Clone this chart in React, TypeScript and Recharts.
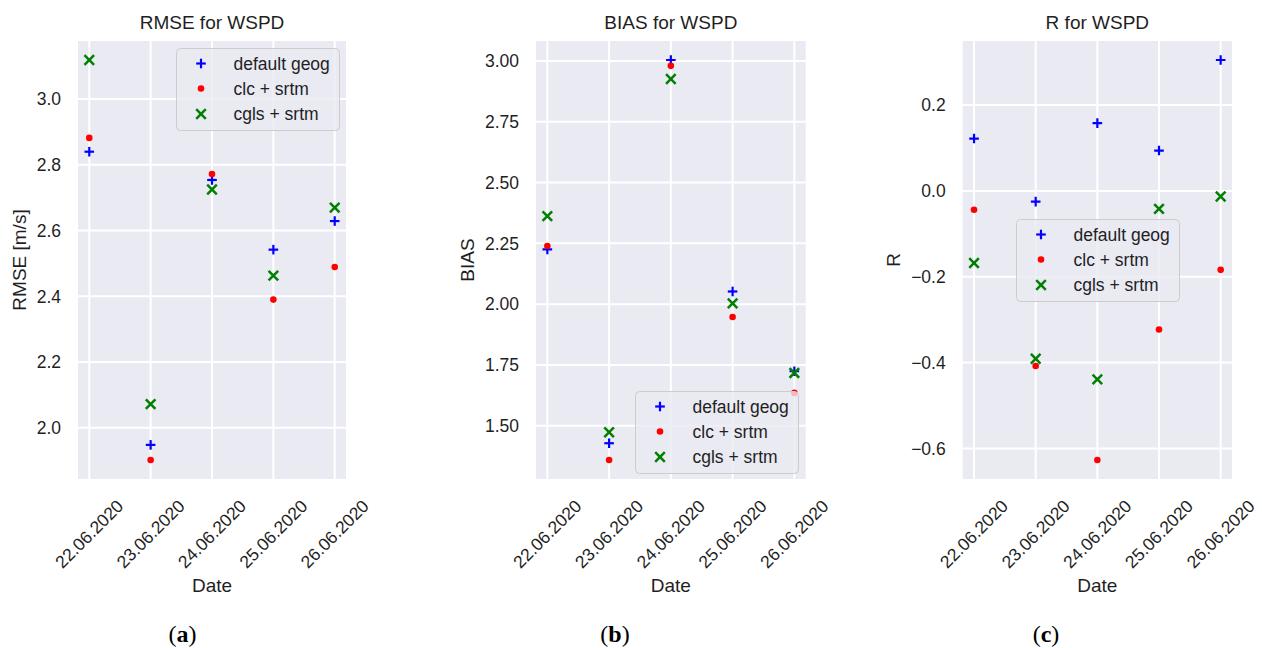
import React from 'react';
import { ScatterChart, Scatter, XAxis, YAxis, CartesianGrid, Legend } from 'recharts';

// ---------- data ----------
const dates = ['22.06.2020', '23.06.2020', '24.06.2020', '25.06.2020', '26.06.2020'];
const seriesNames = ['default geog', 'clc + srtm', 'cgls + srtm'];

const rmseDefault = [2.84, 1.948, 2.754, 2.542, 2.629];
const rmseClc = [2.882, 1.902, 2.772, 2.39, 2.489];
const rmseCgls = [3.119, 2.072, 2.725, 2.463, 2.67];

const biasDefault = [2.225, 1.428, 3.004, 2.052, 1.724];
const biasClc = [2.239, 1.359, 2.98, 1.947, 1.635];
const biasCgls = [2.362, 1.473, 2.926, 2.003, 1.717];

const rDefault = [0.122, -0.025, 0.158, 0.094, 0.305];
const rClc = [-0.044, -0.408, -0.627, -0.323, -0.184];
const rCgls = [-0.168, -0.391, -0.439, -0.042, -0.013];

const rmseTicks = [2.0, 2.2, 2.4, 2.6, 2.8, 3.0];
const biasTicks = [1.5, 1.75, 2.0, 2.25, 2.5, 2.75, 3.0];
const rTicks = [-0.6, -0.4, -0.2, 0.0, 0.2];
const xTicks = [0, 1, 2, 3, 4];

// ---------- styling ----------
const SANS = '"Liberation Sans", Arial, sans-serif';
const TXT = '#1f1f1f';
const BG = '#EAEAF2';
const BLUE = '#0000FF';
const RED = '#FF0000';
const GREEN = '#008000';

const toPts = (vals: number[]) => vals.map((v, i) => ({ x: i, y: v }));

const PlusMark = ({ cx, cy }: any) => (
  <g>
    <line x1={cx - 4.8} y1={cy} x2={cx + 4.8} y2={cy} stroke={BLUE} strokeWidth={2.2} />
    <line x1={cx} y1={cy - 4.8} x2={cx} y2={cy + 4.8} stroke={BLUE} strokeWidth={2.2} />
  </g>
);
const DotMark = ({ cx, cy }: any) => <circle cx={cx} cy={cy} r={3.3} fill={RED} />;
const XMark = ({ cx, cy }: any) => (
  <g>
    <line x1={cx - 4.8} y1={cy - 4.8} x2={cx + 4.8} y2={cy + 4.8} stroke={GREEN} strokeWidth={2.5} />
    <line x1={cx - 4.8} y1={cy + 4.8} x2={cx + 4.8} y2={cy - 4.8} stroke={GREEN} strokeWidth={2.5} />
  </g>
);

const DateTick = (props: any) => {
  const { x, y, payload } = props;
  const cy = y + 54;
  return (
    <text
      x={x}
      y={cy}
      textAnchor="middle"
      dominantBaseline="central"
      transform={`rotate(-45, ${x}, ${cy})`}
      fontSize={17.5}
      fill={TXT}
      fontFamily={SANS}
    >
      {dates[payload.value]}
    </text>
  );
};

const LegendBox = () => {
  const w = 163;
  const h = 82;
  const rows = [15.5, 40.5, 66];
  const mk = 25;
  const tx = 57.5;
  return (
    <svg width={w + 2} height={h + 2} style={{ display: 'block' }}>
      <rect x={0.5} y={0.5} width={w} height={h} rx={4} ry={4} fill="rgba(234,234,242,0.8)" stroke="#CCCCCC" strokeWidth={1} />
      <PlusMark cx={mk} cy={rows[0]} />
      <DotMark cx={mk} cy={rows[1]} />
      <XMark cx={mk} cy={rows[2]} />
      {seriesNames.map((n, i) => (
        <text key={n} x={tx} y={rows[i]} dominantBaseline="central" fontSize={17.5} fill={TXT} fontFamily={SANS}>
          {n}
        </text>
      ))}
    </svg>
  );
};

type PanelProps = {
  left: number;
  width: number;
  plotLeft: number;
  plotRight: number;
  title: string;
  yLabel: string;
  yLabelDist: number;
  d1: number[];
  d2: number[];
  d3: number[];
  ticks: number[];
  decimals: number;
  legendLeft: number;
  legendTop: number;
  letter: string;
  captionX: number;
};

const PLOT_TOP = 40;
const PLOT_BOTTOM = 480;
const H = 648;
const Y_AXIS_W = 60;
const X_AXIS_H = 100;

const fmt = (v: number, d: number) => {
  const s = Math.abs(v).toFixed(d);
  return v < -1e-9 ? '\u2212' + s : s;
};

const Panel = (p: PanelProps) => {
  const all = [...p.d1, ...p.d2, ...p.d3];
  const mn = Math.min(...all);
  const mx = Math.max(...all);
  const pad = (mx - mn) * 0.05;
  const domain = [mn - pad, mx + pad];
  const plotCx = (p.plotLeft + p.plotRight) / 2;
  const plotCy = (PLOT_TOP + PLOT_BOTTOM) / 2;
  return (
    <div style={{ position: 'absolute', left: p.left, top: 0 }}>
      <ScatterChart
        width={p.width}
        height={H}
        margin={{
          top: PLOT_TOP,
          bottom: H - PLOT_BOTTOM - X_AXIS_H,
          left: p.plotLeft - Y_AXIS_W,
          right: p.width - p.plotRight,
        }}
      >
        <CartesianGrid fill={BG} fillOpacity={1} stroke="#FFFFFF" strokeWidth={2} />
        <XAxis
          type="number"
          dataKey="x"
          domain={[-0.2, 4.2]}
          ticks={xTicks}
          allowDataOverflow
          axisLine={false}
          tickLine={false}
          tickSize={0}
          tickMargin={0}
          height={X_AXIS_H}
          interval={0}
          tick={<DateTick />}
        />
        <YAxis
          type="number"
          dataKey="y"
          domain={domain}
          ticks={p.ticks}
          allowDataOverflow
          axisLine={false}
          tickLine={false}
          tickSize={0}
          tickMargin={16}
          width={Y_AXIS_W}
          interval={0}
          tickFormatter={(v: number) => fmt(v, p.decimals)}
          tick={{ fontSize: 17.5, fill: TXT, fontFamily: SANS }}
        />
        <Scatter name={seriesNames[0]} data={toPts(p.d1)} isAnimationActive={false} shape={(s: any) => <PlusMark cx={s.cx} cy={s.cy} />} />
        <Scatter name={seriesNames[1]} data={toPts(p.d2)} isAnimationActive={false} shape={(s: any) => <DotMark cx={s.cx} cy={s.cy} />} />
        <Scatter name={seriesNames[2]} data={toPts(p.d3)} isAnimationActive={false} shape={(s: any) => <XMark cx={s.cx} cy={s.cy} />} />
        <Legend
          layout="vertical"
          align="center"
          verticalAlign="middle"
          wrapperStyle={{ left: p.legendLeft, top: p.legendTop, width: 165, height: 84 }}
          content={() => <LegendBox />}
        />
        <text x={plotCx} y={29} textAnchor="middle" fontSize={19} fill={TXT} fontFamily={SANS}>
          {p.title}
        </text>
        <text
          x={p.plotLeft - p.yLabelDist}
          y={plotCy}
          textAnchor="middle"
          dominantBaseline="central"
          transform={`rotate(-90, ${p.plotLeft - p.yLabelDist}, ${plotCy})`}
          fontSize={19}
          fill={TXT}
          fontFamily={SANS}
        >
          {p.yLabel}
        </text>
        <text x={plotCx} y={592} textAnchor="middle" fontSize={19} fill={TXT} fontFamily={SANS}>
          Date
        </text>
        <text x={p.captionX} y={642} textAnchor="middle" fontSize={24} fill="#000" fontFamily={'"Liberation Serif", "DejaVu Serif", serif'}>
          (<tspan fontWeight="bold">{p.letter}</tspan>)
        </text>
      </ScatterChart>
    </div>
  );
};

export default function App() {
  return (
    <div style={{ position: 'absolute', left: 0, top: 0, width: 1262, height: 648, background: '#fff' }}>
      <Panel
        left={0}
        width={420}
        plotLeft={77}
        plotRight={347}
        title="RMSE for WSPD"
        yLabel="RMSE [m/s]"
        yLabelDist={58}
        d1={rmseDefault}
        d2={rmseClc}
        d3={rmseCgls}
        ticks={rmseTicks}
        decimals={1}
        legendLeft={175.5}
        legendTop={47.5}
        letter="a"
        captionX={182.6}
      />
      <Panel
        left={420}
        width={420}
        plotLeft={115}
        plotRight={386.7}
        title="BIAS for WSPD"
        yLabel="BIAS"
        yLabelDist={67.7}
        d1={biasDefault}
        d2={biasClc}
        d3={biasCgls}
        ticks={biasTicks}
        decimals={2}
        legendLeft={215}
        legendTop={390.5}
        letter="b"
        captionX={195}
      />
      <Panel
        left={840}
        width={422}
        plotLeft={121.7}
        plotRight={393}
        title="R for WSPD"
        yLabel="R"
        yLabelDist={68.3}
        d1={rDefault}
        d2={rClc}
        d3={rCgls}
        ticks={rTicks}
        decimals={1}
        legendLeft={175.7}
        legendTop={219}
        letter="c"
        captionX={206}
      />
    </div>
  );
}
